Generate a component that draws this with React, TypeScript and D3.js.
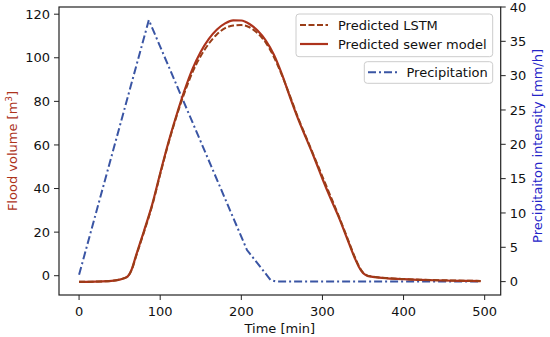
import React from "react";
import * as d3 from "d3";

const timeTicks = [0, 100, 200, 300, 400, 500];
const floodTicks = [0, 20, 40, 60, 80, 100, 120];
const precipTicks = [0, 5, 10, 15, 20, 25, 30, 35, 40];

const sewerT = [0, 20, 40, 50, 55, 60, 65, 70, 80, 90, 100, 110, 120, 130, 140, 150, 160, 170, 180, 190, 200, 210, 220, 230, 240, 250, 260, 270, 280, 290, 300, 310, 320, 330, 340, 345, 350, 355, 360, 370, 380, 400, 420, 450, 480, 495];
const sewerV = [-2.8, -2.7, -2.4, -1.8, -1.2, -0.3, 3.0, 9.0, 20.5, 32.5, 47, 61, 73.5, 85, 95, 102.8, 108.7, 113, 115.8, 117.2, 117.1, 115.5, 112.5, 108, 101.5, 92.5, 82, 72, 63, 54, 44.5, 35.5, 27, 17.5, 8, 4, 1.2, 0, -0.4, -0.9, -1.2, -1.6, -1.9, -2.2, -2.4, -2.5];

const lstmT = [0, 20, 40, 50, 55, 60, 65, 70, 80, 90, 100, 110, 120, 130, 140, 150, 160, 170, 180, 190, 200, 210, 220, 230, 240, 250, 260, 270, 280, 290, 300, 310, 320, 330, 340, 345, 350, 355, 360, 370, 380, 400, 420, 450, 480, 495];
const lstmV = [-2.8, -2.7, -2.4, -1.8, -1.2, -0.3, 2.8, 8.6, 20, 32, 46.5, 60.5, 73, 84, 93.5, 100.8, 106.5, 110.8, 113.6, 114.8, 115.0, 114.0, 111.3, 107, 100.5, 92, 82.5, 72.5, 63.5, 54.5, 45.5, 36.5, 27.5, 18, 8.5, 4.4, 1.5, 0.2, -0.3, -0.8, -1.1, -1.5, -1.8, -2.1, -2.3, -2.4];

const precipT = [0, 86, 207, 217, 227, 236, 243, 300, 400, 495];
const precipV = [1.0, 38.1, 4.6, 3.1, 1.6, 0.25, 0, 0, 0, 0];

const W = 550, H = 337;
const left = 59, right = 500.7, top = 7, bottom = 295;
const FONT = "DejaVu Sans, sans-serif";
const FS = 13;
const BROWN = "#ad331c";
const BROWN_D = "#9a3d17";
const BLUE = "#3a55a4";

export default function App() {
  const x = d3.scaleLinear().domain([-24.75, 519.75]).range([left, right]);
  const yL = d3.scaleLinear().domain([-8.85, 123.3]).range([bottom, top]);
  const yR = d3.scaleLinear().domain([-1.95, 40.0]).range([bottom, top]);

  const sewer = sewerT.map((t, i) => [t, sewerV[i]] as [number, number]);
  const lstm = lstmT.map((t, i) => [t, lstmV[i]] as [number, number]);
  const precip = precipT.map((t, i) => [t, precipV[i]] as [number, number]);

  const lineL = d3.line<[number, number]>().x(d => x(d[0])).y(d => yL(d[1])).curve(d3.curveMonotoneX);
  const lineR = d3.line<[number, number]>().x(d => x(d[0])).y(d => yR(d[1]));

  const dashDot = "8,3,2,3";

  return (
    <svg width={W} height={H} style={{ position: "absolute", left: 0, top: 0, background: "#fff" }} fontFamily={FONT}>
      <rect x={0} y={0} width={W} height={H} fill="#fff" />
      <defs>
        <clipPath id="plot">
          <rect x={left} y={top} width={right - left} height={bottom - top} />
        </clipPath>
      </defs>
      <g clipPath="url(#plot)">
        <path d={lineR(precip) || ""} fill="none" stroke={BLUE} strokeWidth={2} strokeDasharray={dashDot} />
        <path d={lineL(sewer) || ""} fill="none" stroke={BROWN} strokeWidth={2.2} />
        <path d={lineL(lstm) || ""} fill="none" stroke={BROWN_D} strokeWidth={2} strokeDasharray="6,2.5" />
      </g>
      <rect x={left} y={top} width={right - left} height={bottom - top} fill="none" stroke="#222" strokeWidth={1.2} />
      {floodTicks.map(v => (
        <g key={"l" + v}>
          <line x1={left - 5} x2={left} y1={yL(v)} y2={yL(v)} stroke="#222" strokeWidth={1} />
          <text x={left - 9} y={yL(v)} dy="0.36em" textAnchor="end" fontSize={FS} fill="#111">{v}</text>
        </g>
      ))}
      {precipTicks.map(v => (
        <g key={"r" + v}>
          <line x1={right} x2={right + 5} y1={yR(v)} y2={yR(v)} stroke="#222" strokeWidth={1} />
          <text x={right + 9} y={yR(v)} dy="0.36em" textAnchor="start" fontSize={FS} fill="#111">{v}</text>
        </g>
      ))}
      {timeTicks.map(v => (
        <g key={"x" + v}>
          <line x1={x(v)} x2={x(v)} y1={bottom} y2={bottom + 5} stroke="#222" strokeWidth={1} />
          <text x={x(v)} y={315.5} textAnchor="middle" fontSize={FS} fill="#111">{v}</text>
        </g>
      ))}
      <text x={(left + right) / 2} y={333} textAnchor="middle" fontSize={FS} fill="#111">Time [min]</text>
      <text transform={`translate(16.5,${(top + bottom) / 2}) rotate(-90)`} textAnchor="middle" fontSize={FS} fill={BROWN}>
        Flood volume [m<tspan dy="-5" fontSize={9}>3</tspan><tspan dy="5">]</tspan>
      </text>
      <text transform={`translate(541.5,146) rotate(-90)`} textAnchor="middle" fontSize={FS} fill="#2424c8">
        Precipitaiton intensity [mm/h]
      </text>
      <rect x={296} y={14} width={196.7} height={42.7} rx={3} fill="#fff" fillOpacity={0.8} stroke="#ccc" strokeWidth={1} />
      <line x1={300} x2={328} y1={25} y2={25} stroke={BROWN_D} strokeWidth={2} strokeDasharray="6,2.5" />
      <text x={338} y={25} dy="0.36em" fontSize={FS} fill="#111">Predicted LSTM</text>
      <line x1={300} x2={328} y1={44} y2={44} stroke={BROWN} strokeWidth={2.2} />
      <text x={338} y={44} dy="0.36em" fontSize={FS} fill="#111">Predicted sewer model</text>
      <rect x={364.3} y={61.7} width={128.4} height={21.6} rx={3} fill="#fff" fillOpacity={0.8} stroke="#ccc" strokeWidth={1} />
      <line x1={368} x2={397} y1={72.3} y2={72.3} stroke={BLUE} strokeWidth={2} strokeDasharray={dashDot} />
      <text x={406.5} y={72.3} dy="0.36em" fontSize={FS} fill="#111">Precipitation</text>
    </svg>
  );
}
